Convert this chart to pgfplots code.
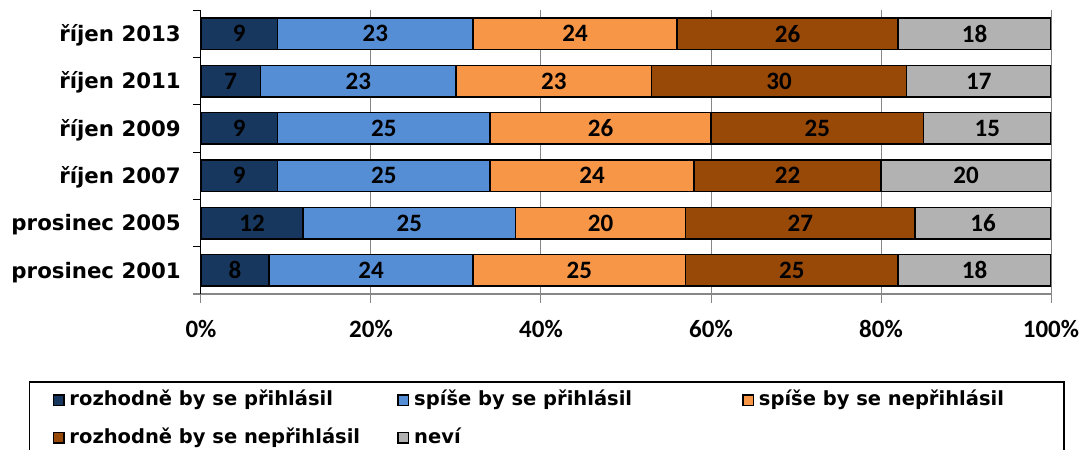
\documentclass[border=0pt]{standalone}
\usepackage{fontspec}
\setmainfont{DejaVu Sans}
\newfontfamily\calib{Carlito}
\usepackage{pgfplots}
\pgfplotsset{compat=1.18}
\usepackage{pgfplotstable}
\definecolor{c1}{HTML}{17375E}
\definecolor{c2}{HTML}{558ED5}
\definecolor{c3}{HTML}{F79646}
\definecolor{c4}{HTML}{984807}
\definecolor{c5}{HTML}{B2B2B2}
\definecolor{gridgray}{HTML}{868686}

\pgfplotstableread{
y a b c d e
5 9 23 24 26 18
4 7 23 23 30 17
3 9 25 26 25 15
2 9 25 24 22 20
1 12 25 20 27 16
0 8 24 25 25 18
}\data

\pgfplotsset{
  mybase/.style={scale only axis, width=850pt, height=284pt,
    xmin=0, xmax=100, ymin=-0.5, ymax=5.5},
  myleg/.style={legend image code/.code={
    \draw[##1, draw=black, line width=1.5pt] (0.75pt,-5.25pt) rectangle (11.25pt,5.25pt);
    \path (16pt,0pt);}},
  mybar/.style={fill=#1, draw=black, line width=1.5pt, myleg},
  mylab/.style={only marks, mark=none, nodes near coords, point meta=explicit symbolic,
    nodes near coords style={anchor=center, inner sep=0pt, text=black,
      font=\calib\bfseries\fontsize{25}{30}\selectfont}},
}

\begin{document}
\begin{tikzpicture}
\begin{axis}[mybase, xbar stacked, bar width=31.5pt,
  axis x line*=bottom, axis y line*=left,
  xtick={0,20,...,100},
  xticklabels={0\%,20\%,40\%,60\%,80\%,100\%},
  ytick={0,...,5},
  yticklabels={prosinec 2001,prosinec 2005,říjen 2007,říjen 2009,říjen 2011,říjen 2013},
  minor ytick={-0.5,0.5,...,5.5},
  tick align=outside, major tick length=9pt, minor tick length=8pt,
  major y tick style={draw=none},
  minor y tick style={black, line width=1pt},
  major x tick style={gridgray, line width=1pt},
  xmajorgrids, major x grid style={gridgray, line width=1pt},
  x axis line style={gridgray, line width=1.5pt, shorten <=-8pt},
  y axis line style={black, line width=1pt},
  xticklabel style={anchor=base, inner sep=0pt, yshift=-34pt,
    font=\calib\bfseries\fontsize{25}{30}\selectfont},
  yticklabel style={anchor=base east, inner sep=0pt, yshift=-7.7pt, xshift=-11pt,
    font=\bfseries\fontsize{21.3}{25}\selectfont},
  legend columns=3, legend cell align=left,
  legend style={at={(-0.20235,-0.30634)}, anchor=north west, draw=black,
    line width=1.5pt, inner xsep=23pt, inner ysep=9pt, row sep=18.5pt,
    column sep=0pt,
    nodes={inner sep=0pt, text height=15pt, text depth=4pt,
      font=\bfseries\fontsize{19.5}{23}\selectfont}},
]
\addplot[mybar=c1] table[x=a, y=y] \data;
\addlegendentry{\makebox[328pt][l]{rozhodně by se přihlásil}}
\addplot[mybar=c2] table[x=b, y=y] \data;
\addlegendentry{\makebox[328pt][l]{spíše by se přihlásil}}
\addplot[mybar=c3] table[x=c, y=y] \data;
\addlegendentry{\makebox[282pt][l]{spíše by se nepřihlásil}}
\addplot[mybar=c4] table[x=d, y=y] \data;
\addlegendentry{\makebox[328pt][l]{rozhodně by se nepřihlásil}}
\addplot[mybar=c5] table[x=e, y=y] \data;
\addlegendentry{\makebox[328pt][l]{neví}}
\end{axis}
\begin{axis}[mybase, hide axis]
\addplot[mylab] table[x expr=\thisrow{a}/2, y=y, meta=a] \data;
\addplot[mylab] table[x expr=\thisrow{a}+\thisrow{b}/2, y=y, meta=b] \data;
\addplot[mylab] table[x expr=\thisrow{a}+\thisrow{b}+\thisrow{c}/2, y=y, meta=c] \data;
\addplot[mylab] table[x expr=\thisrow{a}+\thisrow{b}+\thisrow{c}+\thisrow{d}/2, y=y, meta=d] \data;
\addplot[mylab] table[x expr=\thisrow{a}+\thisrow{b}+\thisrow{c}+\thisrow{d}+\thisrow{e}/2, y=y, meta=e] \data;
\end{axis}
\pgfresetboundingbox
\useasboundingbox (-201pt,-156pt) rectangle (884pt,294pt);
\end{tikzpicture}
\end{document}
